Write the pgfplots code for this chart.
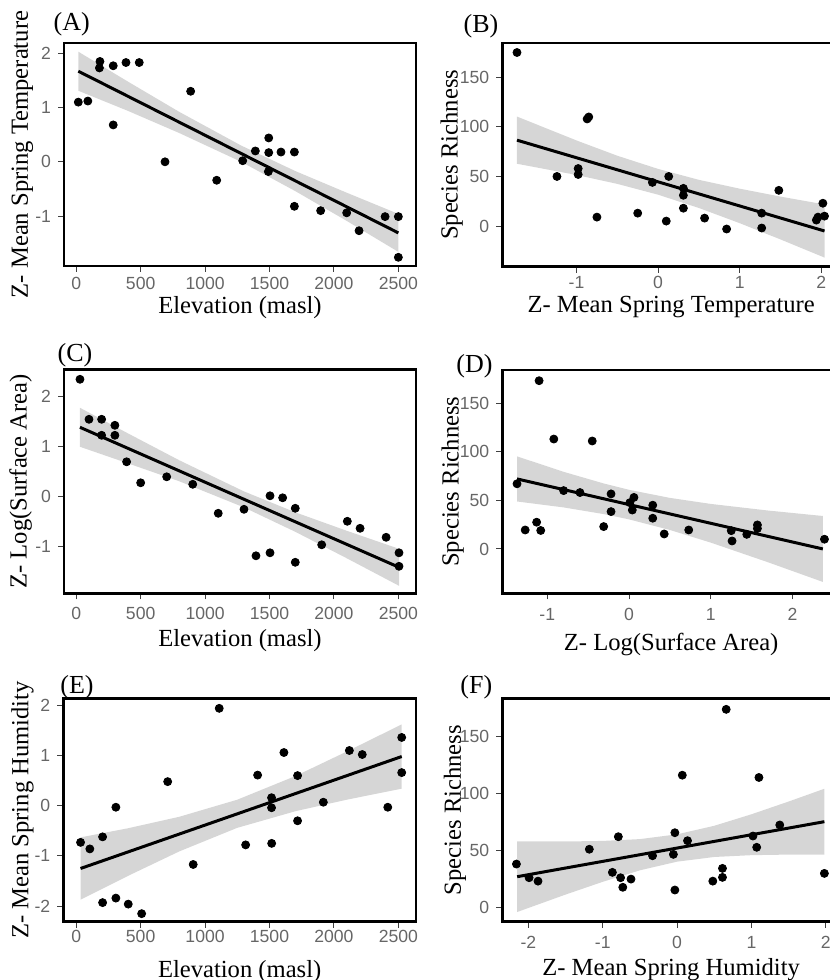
\documentclass[border=0pt]{standalone}
\usepackage{fontspec}
\setmainfont{Liberation Serif}
\newfontfamily\ticksf{Liberation Sans}
\usepackage{pgfplots}
\pgfplotsset{compat=1.18}

\definecolor{tickgray}{gray}{0.40}
\definecolor{tickline}{gray}{0.25}
\definecolor{bandgray}{gray}{0.60}

\pgfplotsset{
  panel/.style={
    scale only axis, anchor=north west,
    axis line style={line width=1.3pt},
    tick align=outside, tick pos=left,
    major tick length=3pt,
    every tick/.style={tickline, line width=0.5pt},
    every tick label/.append style={font=\ticksf\fontsize{8.8}{10}\selectfont, text=tickgray},
    /pgf/number format/assume math mode=true,
    /pgf/number format/1000 sep={},
    scaled ticks=false,
    label style={font=\fontsize{12.3}{14}\selectfont},
  },
  % x tick labels centred at a given distance below the frame
  xtl/.style={xticklabel style={anchor=center, inner sep=0pt, yshift=#1}},
  % x label whose top sits at a given fraction of the axis height below the frame
  xl/.style={xlabel style={at={(axis description cs:0.5,#1)}, anchor=north, inner sep=0pt}},
  yl/.style={ylabel style={at={(axis description cs:#1,0.5)}, anchor=center}},
  pts/.style={only marks, mark=*, mark size=2pt, black},
  band/.style={draw=none, fill=bandgray, fill opacity=0.4},
  fit/.style={black, line width=1.5pt},
}

\begin{document}
\begin{tikzpicture}

% (A) temperature against elevation
\begin{axis}[panel, at={(32pt,468.5pt)}, width=176pt, height=111.5pt,
  xmin=-95, xmax=2637, ymin=-1.92, ymax=2.19,
  xtick={0,500,1000,1500,2000,2500}, ytick={-1,0,1,2},
  xlabel={Elevation (masl)}, ylabel={Z- Mean Spring Temperature},
  xtl=-5.5pt, xl=-0.136, yl=-0.118]
\addplot[pts] coordinates {(16,1.10) (90,1.12) (184,1.85) (180,1.73) (287,1.77)
  (386,1.83) (489,1.83) (287,0.68) (888,1.30) (689,0.00) (1292,0.02) (1390,0.20)
  (1494,0.44) (1494,0.17) (1589,0.18) (1693,0.18) (1090,-0.34) (1491,-0.18)
  (1693,-0.82) (1897,-0.90) (2099,-0.94) (2195,-1.27) (2397,-1.01) (2500,-1.01)
  (2500,-1.76)};
\addplot[band] coordinates {(16,2.03) (400,1.48) (800,0.92) (1280,0.30) (1700,-0.17)
  (2100,-0.57) (2500,-0.96) (2500,-1.66) (2100,-1.09) (1700,-0.54) (1280,0.00)
  (800,0.53) (400,0.94) (16,1.31)};
\addplot[fit] coordinates {(16,1.67) (2500,-1.31)};
\end{axis}

% (B) richness against temperature
\begin{axis}[panel, at={(251.15pt,468.5pt)}, width=168.85pt, height=111.85pt,
  xmin=-1.91, xmax=2.23, ymin=-41, ymax=184.6,
  xtick={-1,0,1,2}, ytick={0,50,100,150},
  xlabel={Z- Mean Spring Temperature}, ylabel={Species Richness},
  xtl=-4.75pt, xl=-0.130, yl=-0.150]
\addplot[pts] coordinates {(-1.73,175) (-1.24,50) (-0.98,58) (-0.98,52) (-0.87,108)
  (-0.85,110) (-0.75,9) (-0.25,13) (-0.07,44) (0.13,50) (0.10,5) (0.31,38) (0.31,31)
  (0.31,18) (0.57,8) (0.84,-3) (1.27,13) (1.27,-2) (1.48,36) (1.94,6) (1.96,9)
  (2.02,23) (2.04,10)};
\addplot[band] coordinates {(-1.73,110.4) (-1.0,86.3) (-0.5,70.9) (0,57.6) (0.5,46.6)
  (1.0,37.7) (1.5,29.7) (2.04,21.8) (2.04,-31.8) (1.5,-13.5) (1.0,2.9) (0.5,18.2)
  (0,31.6) (-0.5,42.5) (-1.0,51.5) (-1.73,62.8)};
\addplot[fit] coordinates {(-1.73,86.6) (2.04,-5.0)};
\end{axis}

% (C) surface area against elevation
\begin{axis}[panel, at={(32pt,305.35pt)}, width=176pt, height=112pt,
  xmin=-95, xmax=2637, ymin=-1.93, ymax=2.55,
  xtick={0,500,1000,1500,2000,2500}, ytick={-1,0,1,2},
  xlabel={Elevation (masl)}, ylabel={Z- Log(Surface Area)},
  xtl=-7pt, xl=-0.159, yl=-0.123]
\addplot[pts] coordinates {(29,2.35) (99,1.55) (197,1.55) (197,1.23) (300,1.43)
  (300,1.23) (391,0.70) (702,0.40) (500,0.28) (904,0.25) (1102,-0.33) (1302,-0.25)
  (1504,0.02) (1602,-0.02) (1700,-0.23) (1395,-1.18) (1504,-1.12) (1700,-1.31)
  (1905,-0.96) (2104,-0.49) (2203,-0.63) (2405,-0.81) (2505,-1.12) (2505,-1.39)};
\addplot[band] coordinates {(29,1.78) (400,1.27) (800,0.73) (1300,0.11) (1700,-0.31)
  (2100,-0.68) (2505,-1.04) (2505,-1.78) (2100,-1.23) (1700,-0.70) (1300,-0.21)
  (800,0.31) (400,0.67) (29,1.00)};
\addplot[fit] coordinates {(29,1.39) (2505,-1.41)};
\end{axis}

% (D) richness against surface area
\begin{axis}[panel, at={(251.15pt,305pt)}, width=168.85pt, height=111.65pt,
  xmin=-1.55, xmax=2.58, ymin=-45.6, ymax=184,
  xtick={-1,0,1,2}, ytick={0,50,100,150},
  xlabel={Z- Log(Surface Area)}, ylabel={Species Richness},
  xtl=-7.45pt, xl=-0.179, yl=-0.147]
\addplot[pts] coordinates {(-1.10,173) (-0.92,113) (-0.45,111) (-1.37,67) (-1.27,19.5)
  (-1.13,27.5) (-1.08,19) (-0.80,60) (-0.60,58) (-0.31,23) (-0.22,56.6) (-0.22,38.4)
  (0.01,47.6) (0.06,53) (0.04,40) (0.29,45) (0.29,31.6) (0.43,15.4) (0.73,19.5)
  (1.25,18.8) (1.26,8.2) (1.44,15) (1.57,24.7) (1.57,21) (2.39,10)};
\addplot[band] coordinates {(-1.37,95.2) (-0.8,79.3) (-0.3,67.1) (0,60.8) (0.5,52.5)
  (1.0,46.3) (1.7,39.5) (2.37,33.9) (2.37,-33.9) (1.7,-13.7) (1.0,6.5) (0.5,19.5)
  (0,30.4) (-0.3,35.7) (-0.8,42.7) (-1.37,48.8)};
\addplot[fit] coordinates {(-1.37,72) (2.37,0)};
\end{axis}

% (E) humidity against elevation
\begin{axis}[panel, at={(31.65pt,140.85pt)}, width=176.35pt, height=111.7pt,
  xmin=-100, xmax=2637, ymin=-2.31, ymax=2.14,
  xtick={0,500,1000,1500,2000,2500}, ytick={-2,-1,0,1,2},
  xlabel={Elevation (masl)}, ylabel={Z- Mean Spring Humidity},
  xtl=-4.5pt, xl=-0.171, yl=-0.116]
\addplot[pts] coordinates {(1110,1.94) (710,0.48) (308,-0.03) (1408,0.61) (1612,1.06)
  (1718,0.60) (1516,0.16) (1516,-0.04) (1918,0.07) (2120,1.10) (2220,1.02)
  (2526,1.36) (2526,0.66) (2418,-0.03) (1718,-0.30) (34,-0.73) (106,-0.86)
  (205,-0.62) (908,-1.17) (1315,-0.78) (1517,-0.75) (205,-1.93) (308,-1.84)
  (404,-1.96) (508,-2.15)};
\addplot[band] coordinates {(34,-0.63) (400,-0.45) (800,-0.22) (1250,0.12) (1700,0.59)
  (2100,1.08) (2526,1.62) (2526,0.34) (2100,0.12) (1700,-0.11) (1250,-0.44)
  (800,-0.91) (400,-1.40) (34,-1.87)};
\addplot[fit] coordinates {(34,-1.25) (2526,0.98)};
\end{axis}

% (F) richness against humidity
\begin{axis}[panel, at={(251.15pt,140.85pt)}, width=168.85pt, height=111.7pt,
  xmin=-2.35, xmax=2.19, ymin=-12.6, ymax=183.5,
  xtick={-2,-1,0,1,2}, ytick={0,50,100,150},
  xlabel={Z- Mean Spring Humidity}, ylabel={Species Richness},
  xtl=-7.5pt, xl=-0.162, yl=-0.140]
\addplot[pts] coordinates {(0.66,173.8) (0.07,116) (1.10,114) (-2.16,38) (-1.99,26)
  (-1.87,23) (-1.18,51) (-0.87,30.7) (-0.79,62) (-0.76,26) (-0.73,17.6) (-0.62,24.8)
  (-0.33,45.3) (-0.03,65.5) (-0.05,46.5) (-0.03,15.2) (0.14,58.5) (0.48,23)
  (0.61,34.2) (0.61,26.3) (1.02,62.6) (1.07,52.7) (1.38,72.3) (1.98,29.8)};
\addplot[band] coordinates {(-2.15,57.9) (-1.5,57.8) (-1.0,58.3) (-0.5,59.9) (0,64.1)
  (0.5,71.6) (1.0,81.7) (1.5,92.9) (1.98,104.1) (1.98,46.3) (1.5,46.3) (1.0,45.8)
  (0.5,44.2) (0,40.1) (-0.5,32.5) (-1.0,22.4) (-1.5,11.2) (-2.15,-4.1)};
\addplot[fit] coordinates {(-2.15,26.9) (1.98,75.2)};
\end{axis}

% panel letters
\node[anchor=base west, font=\fontsize{13}{15}\selectfont, inner sep=0pt] at (26.65pt,474.65pt) {(A)};
\node[anchor=base west, font=\fontsize{13}{15}\selectfont, inner sep=0pt] at (231.65pt,473.85pt) {(B)};
\node[anchor=base west, font=\fontsize{13}{15}\selectfont, inner sep=0pt] at (28.65pt,309.15pt) {(C)};
\node[anchor=base west, font=\fontsize{13}{15}\selectfont, inner sep=0pt] at (228pt,303.85pt) {(D)};
\node[anchor=base west, font=\fontsize{13}{15}\selectfont, inner sep=0pt] at (30pt,143.35pt) {(E)};
\node[anchor=base west, font=\fontsize{13}{15}\selectfont, inner sep=0pt] at (230pt,143pt) {(F)};

\pgfresetboundingbox
\path[use as bounding box] (0pt,0pt) rectangle (415pt,490pt);
\end{tikzpicture}
\end{document}
